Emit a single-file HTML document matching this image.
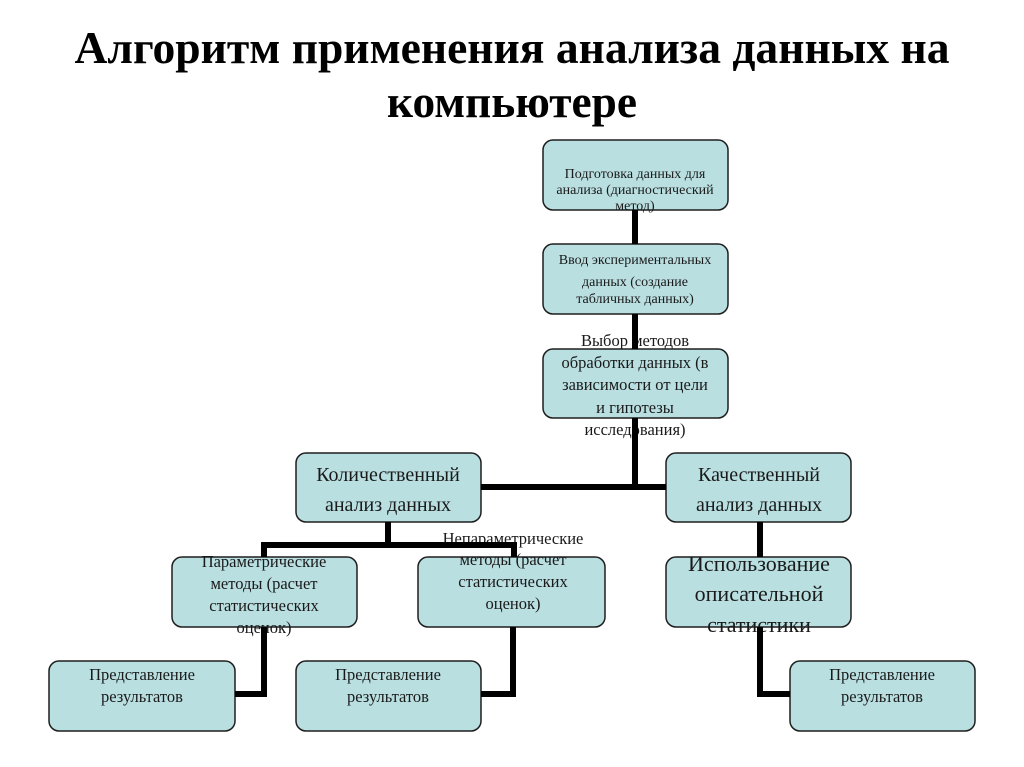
<!DOCTYPE html>
<html><head><meta charset="utf-8"><style>
html,body{margin:0;padding:0;background:#fff;}
svg{display:block}
text{font-family:"Liberation Serif","Noto Serif CJK SC",serif;fill:#1a1a1a;text-anchor:middle}
.t{font-weight:bold;fill:#000;font-size:46px}
.s{font-size:14px}
.m{font-size:16.5px}
.l{font-size:20px}
rect{fill:#b9dfe1;stroke:#1e1e1e;stroke-width:1.5}
.ln{stroke:#000;stroke-width:6;fill:none;stroke-linejoin:miter}
</style></head><body>
<svg width="1024" height="767" viewBox="0 0 1024 767">
<text class="t" x="512" y="63" textLength="875" lengthAdjust="spacingAndGlyphs">Алгоритм применения анализа данных на</text>
<text class="t" x="512" y="117" textLength="250" lengthAdjust="spacingAndGlyphs">компьютере</text>

<rect x="543" y="140" width="185" height="70" rx="10"/>
<rect x="543" y="244" width="185" height="70" rx="10"/>
<rect x="543" y="349" width="185" height="69" rx="10"/>
<rect x="296" y="453" width="185" height="69" rx="10"/>
<rect x="666" y="453" width="185" height="69" rx="10"/>
<rect x="172" y="557" width="185" height="70" rx="10"/>
<rect x="418" y="557" width="187" height="70" rx="10"/>
<rect x="666" y="557" width="185" height="70" rx="10"/>
<rect x="49" y="661" width="186" height="70" rx="10"/>
<rect x="296" y="661" width="185" height="70" rx="10"/>
<rect x="790" y="661" width="185" height="70" rx="10"/>

<text class="s" x="635" y="178">Подготовка данных для</text>
<text class="s" x="635" y="194">анализа (диагностический</text>
<text class="s" x="635" y="210">метод)</text>

<text class="s" x="635" y="264">Ввод экспериментальных</text>
<text class="s" x="635" y="286">данных (создание</text>
<text class="s" x="635" y="303">табличных данных)</text>

<text class="m" x="635" y="346">Выбор методов</text>
<text class="m" x="635" y="368">обработки данных (в</text>
<text class="m" x="635" y="390">зависимости от цели</text>
<text class="m" x="635" y="413">и гипотезы</text>
<text class="m" x="635" y="435">исследования)</text>

<text class="l" x="388" y="481">Количественный</text>
<text class="l" x="388" y="511">анализ данных</text>
<text class="l" x="759" y="481">Качественный</text>
<text class="l" x="759" y="511">анализ данных</text>

<text class="m" x="264" y="567">Параметрические</text>
<text class="m" x="264" y="589">методы  (расчет</text>
<text class="m" x="264" y="611">статистических</text>
<text class="m" x="264" y="633">оценок)</text>

<text class="m" x="513" y="544">Непараметрические</text>
<text class="m" x="513" y="565">методы (расчет</text>
<text class="m" x="513" y="587">статистических</text>
<text class="m" x="513" y="609">оценок)</text>

<text class="l" x="759" y="571" style="font-size:22px">Использование</text>
<text class="l" x="759" y="601" style="font-size:22px">описательной</text>
<text class="l" x="759" y="632" style="font-size:22px">статистики</text>

<text class="m" x="142" y="680">Представление</text>
<text class="m" x="142" y="702">результатов</text>
<text class="m" x="388" y="680">Представление</text>
<text class="m" x="388" y="702">результатов</text>
<text class="m" x="882" y="680">Представление</text>
<text class="m" x="882" y="702">результатов</text>

<path class="ln" d="M635 210V244M635 314V349M635 418V487M481 487H666"/>
<path class="ln" d="M388 522V545M264 545H514M264 542V557M514 542V557"/>
<path class="ln" d="M264 627V694H235"/>
<path class="ln" d="M513 627V694H481"/>
<path class="ln" d="M760 522V557M760 627V694H790"/>
</svg>
</body></html>
